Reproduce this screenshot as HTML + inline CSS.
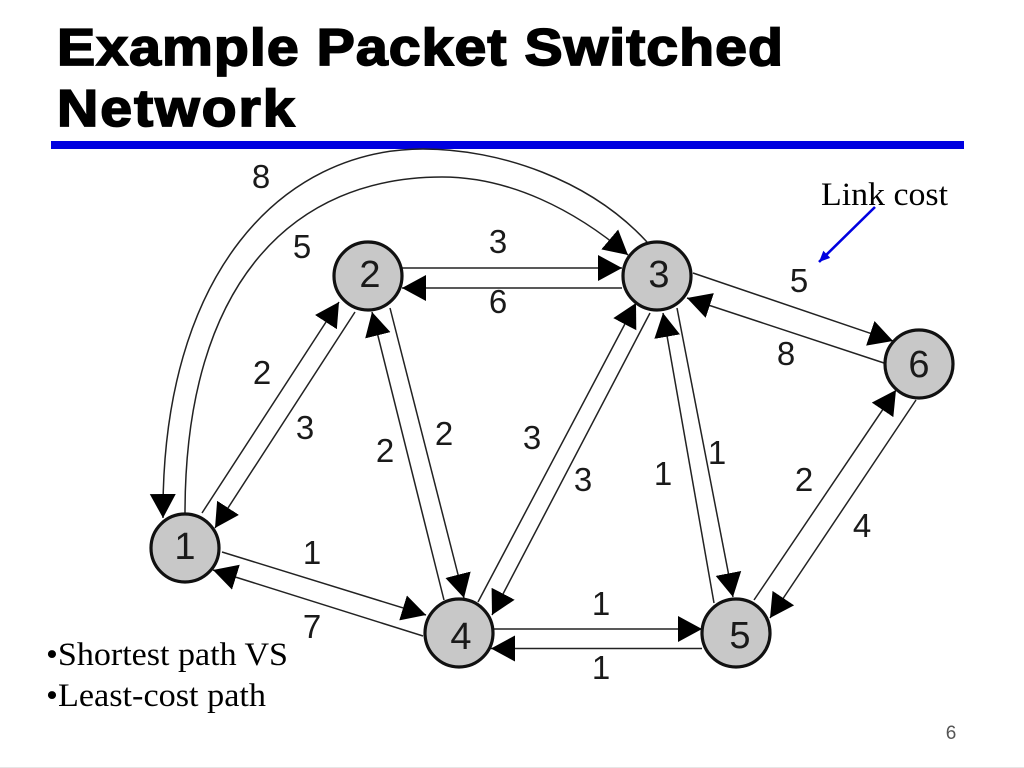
<!DOCTYPE html>
<html>
<head>
<meta charset="utf-8">
<style>
html,body{margin:0;padding:0;background:#fff;width:1024px;height:768px;overflow:hidden}
svg{display:block}
.d{font-family:"Liberation Sans",sans-serif;font-size:33px;fill:#1a1a1a;text-anchor:middle}
.n{font-family:"Liberation Sans",sans-serif;font-size:38px;fill:#1a1a1a;text-anchor:middle}
.s{font-family:"Liberation Serif",serif;font-size:33px;fill:#000}
.t{font-family:"Liberation Sans",sans-serif;font-weight:bold;font-size:52px;fill:#000;stroke:#000;stroke-width:1.7px}
.e{stroke:#222;stroke-width:1.5;fill:none;marker-end:url(#a)}
circle{fill:#c8c8c8;stroke:#111;stroke-width:3.2}
</style>
</head>
<body>
<svg width="1024" height="768" viewBox="0 0 1024 768" xmlns="http://www.w3.org/2000/svg">
<defs>
<marker id="a" markerUnits="userSpaceOnUse" markerWidth="26" markerHeight="28" refX="24" refY="13" orient="auto">
<path d="M0,0L24,13L0,26Z" fill="#000"/>
</marker>
<marker id="b" markerUnits="userSpaceOnUse" markerWidth="12" markerHeight="12" refX="11" refY="5" orient="auto">
<path d="M0,0L11,5L0,10Z" fill="#0000e0"/>
</marker>
</defs>
<rect x="0" y="767" width="1024" height="1" fill="#e6e6e6"/>
<text class="t" transform="translate(57,65) scale(1.1,1)" textLength="660" lengthAdjust="spacing">Example Packet Switched</text>
<text class="t" transform="translate(57,126) scale(1.1,1)" textLength="216" lengthAdjust="spacing">Network</text>
<rect x="51" y="141" width="913" height="8" fill="#0000e0"/>

<path class="e" d="M647,242C590,180 500,149 423,149C283,149 161,272 163,518"/>
<path class="e" d="M185,513C185,280 295,177 442,177C510,177 575,210 628,255"/>
<path class="e" d="M202,513L339,302"/>
<path class="e" d="M355,312L215,528"/>
<path class="e" d="M402,268L622,268"/>
<path class="e" d="M622,288L402,288"/>
<path class="e" d="M390,308L464,598"/>
<path class="e" d="M444,600L372,312"/>
<path class="e" d="M478,602L636,303"/>
<path class="e" d="M650,313L492,615"/>
<path class="e" d="M677,308L733,597"/>
<path class="e" d="M714,603L663,313"/>
<path class="e" d="M754,600L896,390"/>
<path class="e" d="M916,400L770,618"/>
<path class="e" d="M693,273L893,341"/>
<path class="e" d="M884,363L687,298"/>
<path class="e" d="M494,629L702,629"/>
<path class="e" d="M702,648.500L491,648.500"/>
<path class="e" d="M222,552L426,615"/>
<path class="e" d="M423,636L213,570"/>

<circle cx="185" cy="548" r="34"/>
<circle cx="368" cy="276" r="34"/>
<circle cx="657" cy="276" r="34"/>
<circle cx="459" cy="633" r="34"/>
<circle cx="736" cy="633" r="34"/>
<circle cx="919" cy="364" r="34"/>

<text class="n" x="185" y="559">1</text>
<text class="n" x="370" y="287">2</text>
<text class="n" x="659" y="287">3</text>
<text class="n" x="461" y="649">4</text>
<text class="n" x="740" y="648">5</text>
<text class="n" x="919" y="377">6</text>

<text class="d" x="261" y="188">8</text>
<text class="d" x="302" y="258">5</text>
<text class="d" x="498" y="253">3</text>
<text class="d" x="498" y="313">6</text>
<text class="d" x="262" y="384">2</text>
<text class="d" x="305" y="439">3</text>
<text class="d" x="444" y="445">2</text>
<text class="d" x="385" y="462">2</text>
<text class="d" x="532" y="449">3</text>
<text class="d" x="583" y="491">3</text>
<text class="d" x="663" y="485">1</text>
<text class="d" x="717" y="464">1</text>
<text class="d" x="804" y="491">2</text>
<text class="d" x="862" y="537">4</text>
<text class="d" x="799" y="292">5</text>
<text class="d" x="786" y="365">8</text>
<text class="d" x="312" y="564">1</text>
<text class="d" x="312" y="638">7</text>
<text class="d" x="601" y="615">1</text>
<text class="d" x="601" y="679">1</text>

<text class="s" x="821" y="205" textLength="127" lengthAdjust="spacingAndGlyphs">Link cost</text>
<path d="M875,207L819,262" stroke="#0000e0" stroke-width="2.6" fill="none" marker-end="url(#b)"/>
<text class="s" x="46" y="665" textLength="242" lengthAdjust="spacingAndGlyphs">•Shortest path VS</text>
<text class="s" x="46" y="706" textLength="220" lengthAdjust="spacingAndGlyphs">•Least-cost path</text>
<text x="951" y="739" text-anchor="middle" font-family="'Liberation Sans',sans-serif" font-size="19" fill="#555">6</text>
</svg>
</body>
</html>
